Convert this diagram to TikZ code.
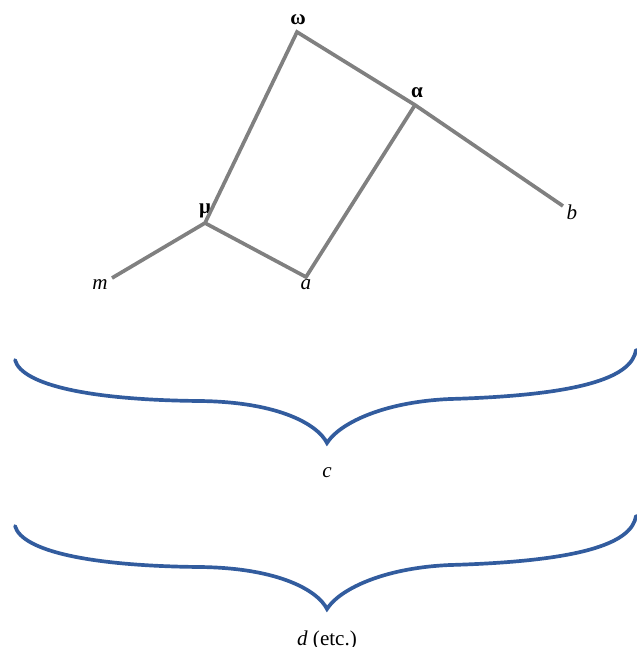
\documentclass[tikz,border=0pt]{standalone}
\usepackage{fontspec}
\setmainfont{Liberation Serif}
\usetikzlibrary{positioning}
\definecolor{edgegray}{RGB}{128,128,128}
\definecolor{braceblue}{RGB}{50,92,158}

\begin{document}
\begin{tikzpicture}[x=0.2mm, y=-0.2mm,
  edge/.style={draw=edgegray, line width=2.1pt},
  brace/.style={draw=braceblue, line width=2.1pt, line cap=round},
  vlbl/.style={font=\fontsize{12}{14}\selectfont\bfseries, inner sep=0pt},
  lbl/.style={font=\fontsize{12}{14}\selectfont, inner sep=0pt}
]
\useasboundingbox (0,0) rectangle (637,647);

% tree
\coordinate (om) at (297,32);
\coordinate (al) at (415,105);
\coordinate (mu) at (205,223);
\coordinate (m)  at (112,278);
\coordinate (a)  at (306,277);
\coordinate (b)  at (563,206);

\node[vlbl] (omlbl) at (298,20) {ω};
\node[vlbl] (allbl) at (417,93) {α};
\node[vlbl] (mulbl) at (205,211) {μ};
\node[lbl]  (mlbl)  at (100,285) {\textit{m}};
\node[lbl]  (albl)  at (306,285) {\textit{a}};
\node[lbl]  (blbl)  at (572,212) {\textit{b}};

\draw[edge] (m) -- (mu) -- (om) -- (al) -- (b);
\draw[edge] (mu) -- (a) -- (al);

% braces
\draw[brace] (15,360) .. controls (22,385) and (90,400) .. (200,401)
  .. controls (280,402) and (318,425) .. (327,443)
  .. controls (338,425) and (380,402) .. (450,399)
  .. controls (590,395) and (632,375) .. (636,350);
\node[lbl] (clbl) at (327,473) {\textit{c}};

\begin{scope}[shift={(0,166)}]
\draw[brace] (15,360) .. controls (22,385) and (90,400) .. (200,401)
  .. controls (280,402) and (318,425) .. (327,443)
  .. controls (338,425) and (380,402) .. (450,399)
  .. controls (590,395) and (632,375) .. (636,350);
\node[lbl] (dlbl) at (327,474) {\textit{d} (etc.)};
\end{scope}
\end{tikzpicture}
\end{document}
